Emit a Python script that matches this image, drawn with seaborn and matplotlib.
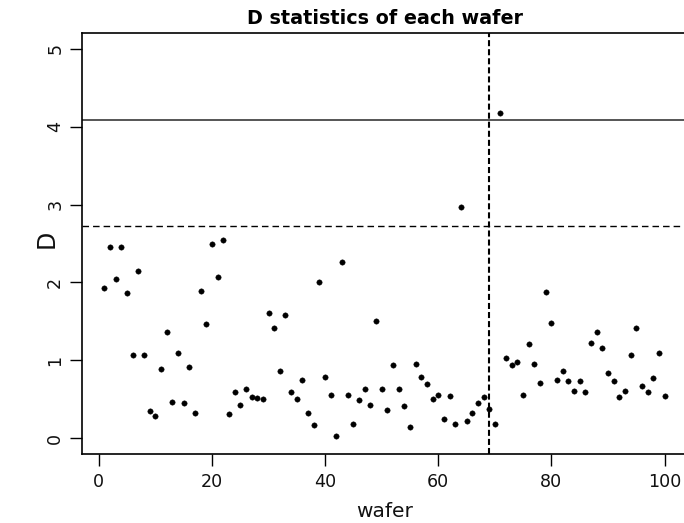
import numpy as np
import pandas as pd
import matplotlib
matplotlib.use("Agg")
import matplotlib.pyplot as plt
import seaborn as sns

# D statistic for each of the 100 wafers
wafer = list(range(1, 101))
d_values = [
    1.93, 2.46, 2.05, 2.46, 1.87, 1.07, 2.15, 1.07, 0.35, 0.29,
    0.89, 1.36, 0.47, 1.10, 0.46, 0.91, 0.33, 1.89, 1.47, 2.50,
    2.07, 2.54, 0.31, 0.60, 0.43, 0.64, 0.53, 0.52, 0.50, 1.61,
    1.41, 0.86, 1.58, 0.60, 0.50, 0.75, 0.32, 0.17, 2.00, 0.79,
    0.56, 0.03, 2.26, 0.56, 0.18, 0.49, 0.63, 0.43, 1.50, 0.64,
    0.36, 0.94, 0.63, 0.41, 0.15, 0.96, 0.79, 0.70, 0.50, 0.56,
    0.25, 0.54, 0.19, 2.97, 0.22, 0.33, 0.46, 0.53, 0.38, 0.18,
    4.18, 1.03, 0.94, 0.98, 0.56, 1.21, 0.96, 0.71, 1.88, 1.48,
    0.75, 0.86, 0.73, 0.61, 0.74, 0.60, 1.23, 1.36, 1.16, 0.84,
    0.73, 0.53, 0.61, 1.07, 1.42, 0.67, 0.60, 0.77, 1.10, 0.54,
]

# reference limits
upper_limit = 4.09      # solid line
warning_limit = 2.73    # dashed line
split_wafer = 69        # vertical dashed line

x_ticks = [0, 20, 40, 60, 80, 100]
y_ticks = [0, 1, 2, 3, 4, 5]

df = pd.DataFrame({"wafer": wafer, "D": d_values})

sns.set_style("white")
plt.rcParams["font.family"] = ["DejaVu Sans"]
plt.rcParams["text.color"] = "black"
plt.rcParams["axes.labelcolor"] = "black"

fig = plt.figure(figsize=(6.84, 5.23), dpi=100)
ax = fig.add_axes([82 / 684, (523 - 454) / 523, (687 - 82) / 684, (454 - 33) / 523])

sns.scatterplot(data=df, x="wafer", y="D", ax=ax, color="black",
                s=15, marker="o", edgecolor="black", linewidth=0.3, zorder=3)

ax.axhline(upper_limit, color="#555555", lw=1.4, zorder=2)
ax.axhline(warning_limit, color="black", lw=1.0,
           linestyle=(0, (4.7, 2.9)), zorder=2)
ax.axvline(split_wafer, color="black", lw=1.5,
           linestyle=(0, (2.9, 1.45)), zorder=2)

ax.set_xlim(-2.96, 103.96)
ax.set_ylim(-0.2, 5.2)
ax.set_xticks(x_ticks)
ax.set_yticks(y_ticks)
ax.set_xticklabels([str(t) for t in x_ticks])
ax.set_yticklabels([str(t) for t in y_ticks], rotation=90, va="center")

ax.tick_params(axis="both", which="major", direction="out", length=8.6,
               width=1.0, color="black", labelsize=12.6, labelcolor="#111111",
               bottom=True, left=True, top=False, right=False)
ax.tick_params(axis="x", pad=5.2)
ax.tick_params(axis="y", pad=4.2)

for side in ["top", "left", "bottom", "right"]:
    ax.spines[side].set_visible(True)
    ax.spines[side].set_color("black")
    ax.spines[side].set_linewidth(1.2)

ax.set_title("D statistics of each wafer", fontsize=13.8, fontweight="bold",
             pad=6.5, color="black")
ax.set_xlabel("wafer", fontsize=14.5, va="baseline", color="#111111")
ax.xaxis.set_label_coords(0.4995, -63 / 421)
ax.set_ylabel("D", fontsize=17, va="center", ha="center", color="#111111")
ax.yaxis.set_label_coords(-0.058, 0.51)

fig.savefig("out.png", dpi=100)
